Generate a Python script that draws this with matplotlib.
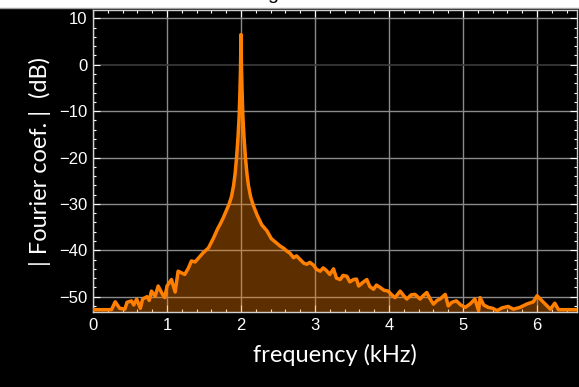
import numpy as np
import matplotlib
matplotlib.use("Agg")
import matplotlib.pyplot as plt
from matplotlib.patches import Rectangle
from matplotlib.ticker import MultipleLocator

# spectrum (kHz, dB)
freq_khz = [0.00, 0.25, 0.30, 0.36, 0.43, 0.46, 0.52, 0.55, 0.59, 0.64,
            0.67, 0.73, 0.76, 0.79, 0.84, 0.88, 0.94, 0.97, 1.00, 1.06,
            1.11, 1.15, 1.24, 1.29, 1.33, 1.38, 1.49, 1.56, 1.63, 1.68,
            1.72, 1.76, 1.80, 1.84, 1.87, 1.90, 1.92, 1.94, 1.96, 1.975,
            1.985, 1.993, 2.000, 2.007, 2.015, 2.025, 2.04, 2.06, 2.08, 2.10,
            2.13, 2.17, 2.22, 2.28, 2.35, 2.41, 2.47, 2.53, 2.58, 2.62,
            2.66, 2.71, 2.75, 2.80, 2.85, 2.89, 2.93, 2.98, 3.02, 3.07,
            3.11, 3.15, 3.20, 3.25, 3.29, 3.34, 3.38, 3.43, 3.47, 3.52,
            3.56, 3.59, 3.64, 3.70, 3.74, 3.79, 3.83, 3.88, 3.93, 3.99,
            4.03, 4.08, 4.15, 4.20, 4.24, 4.30, 4.35, 4.42, 4.46, 4.51,
            4.56, 4.60, 4.65, 4.69, 4.76, 4.80, 4.85, 4.91, 4.97, 5.03,
            5.10, 5.16, 5.21, 5.23, 5.28, 5.34, 5.40, 5.46, 5.53, 5.61,
            5.68, 5.77, 5.86, 5.95, 6.00, 6.18, 6.24, 6.29, 6.40, 6.55]
coef_db = [-52.8, -52.8, -51.1, -52.5, -52.7, -51.2, -50.9, -51.8, -50.5, -52.5,
           -50.5, -50.0, -50.8, -48.8, -49.9, -47.7, -49.5, -50.2, -47.7, -46.3,
           -49.0, -44.5, -45.2, -43.8, -42.3, -42.5, -40.5, -39.5, -37.3, -35.5,
           -34.3, -33.0, -31.5, -30.0, -28.5, -26.0, -23.5, -20.0, -15.5, -11.0,
           -6.0, -1.0, 6.5, -1.0, -6.0, -11.0, -15.5, -20.0, -23.5, -26.0,
           -28.5, -30.5, -32.5, -34.5, -35.8, -37.5, -38.3, -39.1, -39.6, -40.2,
           -40.6, -41.6, -41.2, -42.0, -42.8, -43.0, -42.6, -43.2, -44.1, -44.5,
           -43.8, -44.3, -45.2, -44.0, -46.0, -46.3, -45.4, -45.6, -46.8, -46.3,
           -46.2, -47.7, -47.0, -46.3, -47.8, -48.4, -47.5, -48.0, -48.6, -48.8,
           -49.5, -50.2, -48.8, -49.8, -50.5, -49.6, -49.5, -50.5, -49.8, -49.1,
           -50.6, -51.6, -50.8, -50.5, -49.5, -52.0, -51.2, -50.9, -51.8, -52.3,
           -51.5, -50.5, -53.0, -50.2, -51.8, -52.3, -52.5, -53.0, -52.4, -52.1,
           -52.7, -52.3, -51.6, -51.1, -49.8, -52.7, -51.4, -52.8, -52.8, -52.8]

x_ticks = [0, 1, 2, 3, 4, 5, 6]
y_ticks = [-50, -40, -30, -20, -10, 0, 10]
x_lim = (0, 6.54)
y_lim = (-53.3, 11.8)

orange = "#ff8000"

fig = plt.figure(figsize=(5.79, 3.87), dpi=100, facecolor="black")
# white strip at the very top
fig.patches.append(Rectangle((0, 1 - 8/387), 1, 8/387, transform=fig.transFigure,
                             facecolor="white", edgecolor="none", zorder=0))
fig.add_artist(plt.Line2D([0, 1], [1 - 8/387, 1 - 8/387], transform=fig.transFigure,
                          color="#a0a0a0", lw=1))
fig.text(273/579, 1 + 1/387, "g", ha="center", va="baseline", fontsize=14,
         color="black", family="Liberation Sans")

ax = fig.add_axes([93/579, 75/387, 484/579, 302/387])
ax.set_facecolor("black")

ax.fill_between(freq_khz, coef_db, y_lim[0], color=orange, alpha=0.37,
                lw=0, zorder=2)
ax.plot(freq_khz, coef_db, color=orange, lw=2.5, zorder=3)

ax.set_xlim(*x_lim)
ax.set_ylim(*y_lim)
ax.set_xticks(x_ticks)
ax.set_yticks(y_ticks)
ax.xaxis.set_minor_locator(MultipleLocator(0.2))
ax.yaxis.set_minor_locator(MultipleLocator(2))

for xv in x_ticks:
    ax.axvline(xv, color="#8a8a8a", lw=1, zorder=1)
for yv in y_ticks:
    ax.axhline(yv, color="#3a3a3a" if yv == 0 else "#8a8a8a", lw=1.2 if yv == 0 else 1,
               zorder=1)

ax.tick_params(which="both", direction="in", top=True, right=True, colors="white",
               labelcolor="white", labelsize=12, width=0.8)
ax.tick_params(which="major", length=5, pad=4)
ax.tick_params(which="minor", length=2.5)
for lab in ax.get_xticklabels() + ax.get_yticklabels():
    lab.set_family("Liberation Sans")
for sp in ax.spines.values():
    sp.set_color("#d0d0d0")
    sp.set_linewidth(1)

ax.set_xlabel("frequency (kHz)", color="white", fontsize=17, family="Lato", labelpad=8)
ax.set_ylabel("| Fourier coef. |  (dB)", color="white", fontsize=17, family="Lato",
              labelpad=6)

fig.savefig("out.png", dpi=100, facecolor="black")
